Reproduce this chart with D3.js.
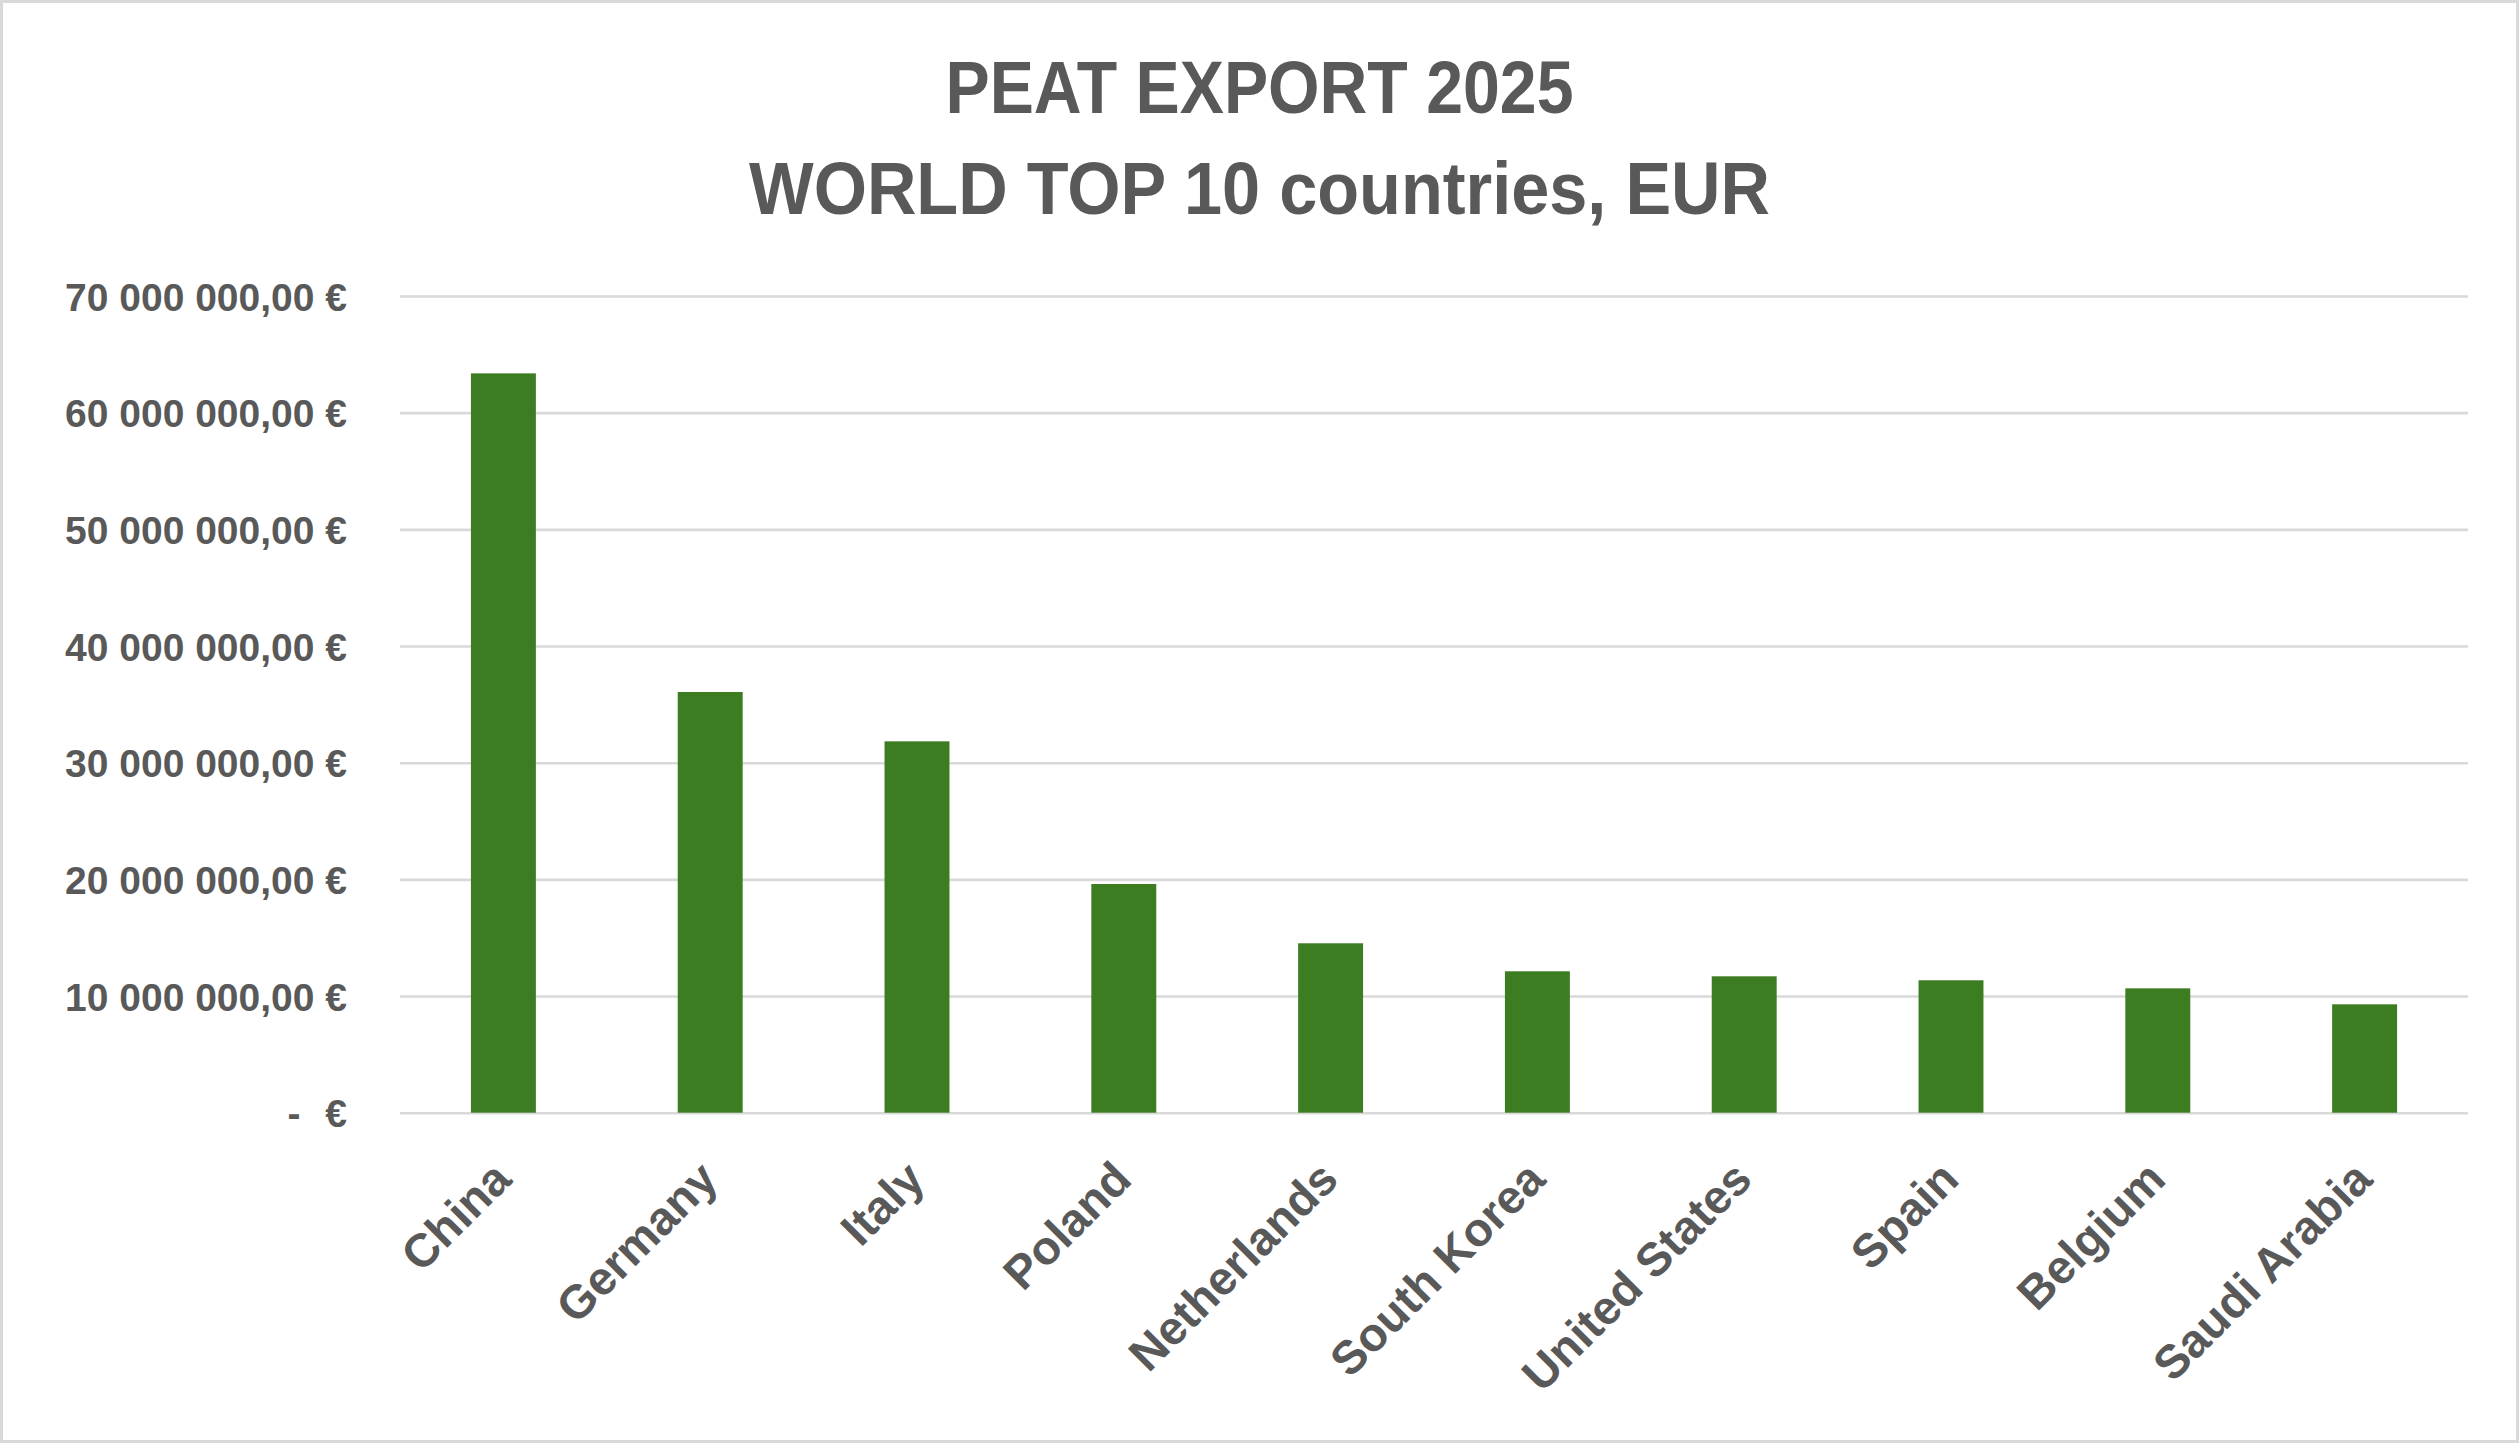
<!DOCTYPE html>
<html>
<head>
<meta charset="utf-8">
<script src="https://cdn.jsdelivr.net/npm/d3@7"></script>
<style>
  html, body { margin: 0; padding: 0; background: #ffffff; }
  svg { display: block; }
</style>
</head>
<body>
<svg id="chart" width="2519" height="1443"></svg>
<script>
// ---- data ----
const titleLines = ["PEAT EXPORT 2025", "WORLD TOP 10 countries, EUR"];
const categories = ["China", "Germany", "Italy", "Poland", "Netherlands", "South Korea", "United States", "Spain", "Belgium", "Saudi Arabia"];
const values = [63370000, 36060000, 31830000, 19600000, 14520000, 12120000, 11690000, 11350000, 10660000, 9290000];
const yTicks = [0, 10000000, 20000000, 30000000, 40000000, 50000000, 60000000, 70000000];

// ---- layout ----
const W = 2519, H = 1443;
const plot = { left: 400, right: 2468, top: 296, bottom: 1112.7 };
const textColor = "#595959";
const barColor = "#3C7D22";
const gridColor = "#D9D9D9";

const svg = d3.select("#chart");

svg.append("rect")
  .attr("x", 1.5).attr("y", 1.5)
  .attr("width", W - 3).attr("height", H - 3)
  .attr("fill", "#ffffff")
  .attr("stroke", gridColor)
  .attr("stroke-width", 3);

// title
const titleFont = "'Liberation Sans Narrow', 'Arial Narrow', 'Liberation Sans', Arial, sans-serif";
const titleY = [112.7, 214];
const titleLen = [628, 1021];
titleLines.forEach((t, i) => {
  svg.append("text")
    .attr("x", W / 2)
    .attr("y", titleY[i])
    .attr("text-anchor", "middle")
    .attr("font-family", titleFont)
    .attr("font-weight", "bold")
    .attr("font-size", 75)
    .attr("fill", textColor)
    .attr("textLength", titleLen[i])
    .attr("lengthAdjust", "spacingAndGlyphs")
    .text(t);
});

// scales
const x = d3.scaleBand()
  .domain(categories)
  .range([plot.left, plot.right])
  .paddingInner(0.686)
  .paddingOuter(0.343);

const y = d3.scaleLinear()
  .domain([0, 70000000])
  .range([plot.bottom, plot.top]);

const numFmt = d3.format(",.2f");
const fmtEUR = d => d === 0
  ? "-\u00A0\u00A0\u200A€"
  : numFmt(d).replace(/,/g, " ").replace(".", ",") + " €";

// y axis with gridlines
const yAxis = svg.append("g")
  .attr("transform", `translate(${plot.left},0)`)
  .call(d3.axisLeft(y)
    .tickValues(yTicks)
    .tickSize(-(plot.right - plot.left))
    .tickPadding(53)
    .tickFormat(fmtEUR));
yAxis.select(".domain").remove();
yAxis.selectAll(".tick line")
  .attr("stroke", gridColor)
  .attr("stroke-width", 2.6);
yAxis.selectAll(".tick text")
  .attr("fill", textColor)
  .attr("font-family", "'Liberation Sans', Arial, sans-serif")
  .attr("font-weight", "bold")
  .attr("font-size", 39)
  .attr("dy", "0.36em")
  .style("white-space", "pre");

// bars
svg.append("g")
  .selectAll("rect")
  .data(values)
  .join("rect")
  .attr("x", (d, i) => x(categories[i]))
  .attr("width", x.bandwidth())
  .attr("y", d => y(d))
  .attr("height", d => y(0) - y(d))
  .attr("fill", barColor);

// x axis labels
const xAxis = svg.append("g")
  .attr("transform", `translate(0,${plot.bottom})`)
  .call(d3.axisBottom(x).tickSize(0).tickPadding(0));
xAxis.select(".domain").remove();
xAxis.selectAll(".tick text")
  .attr("fill", textColor)
  .attr("font-family", "'Liberation Sans', Arial, sans-serif")
  .attr("font-weight", "bold")
  .attr("font-size", 47)
  .attr("text-anchor", "end")
  .attr("dy", null)
  .attr("y", 0)
  .attr("transform", "translate(10,69) rotate(-45)");
</script>
</body>
</html>
